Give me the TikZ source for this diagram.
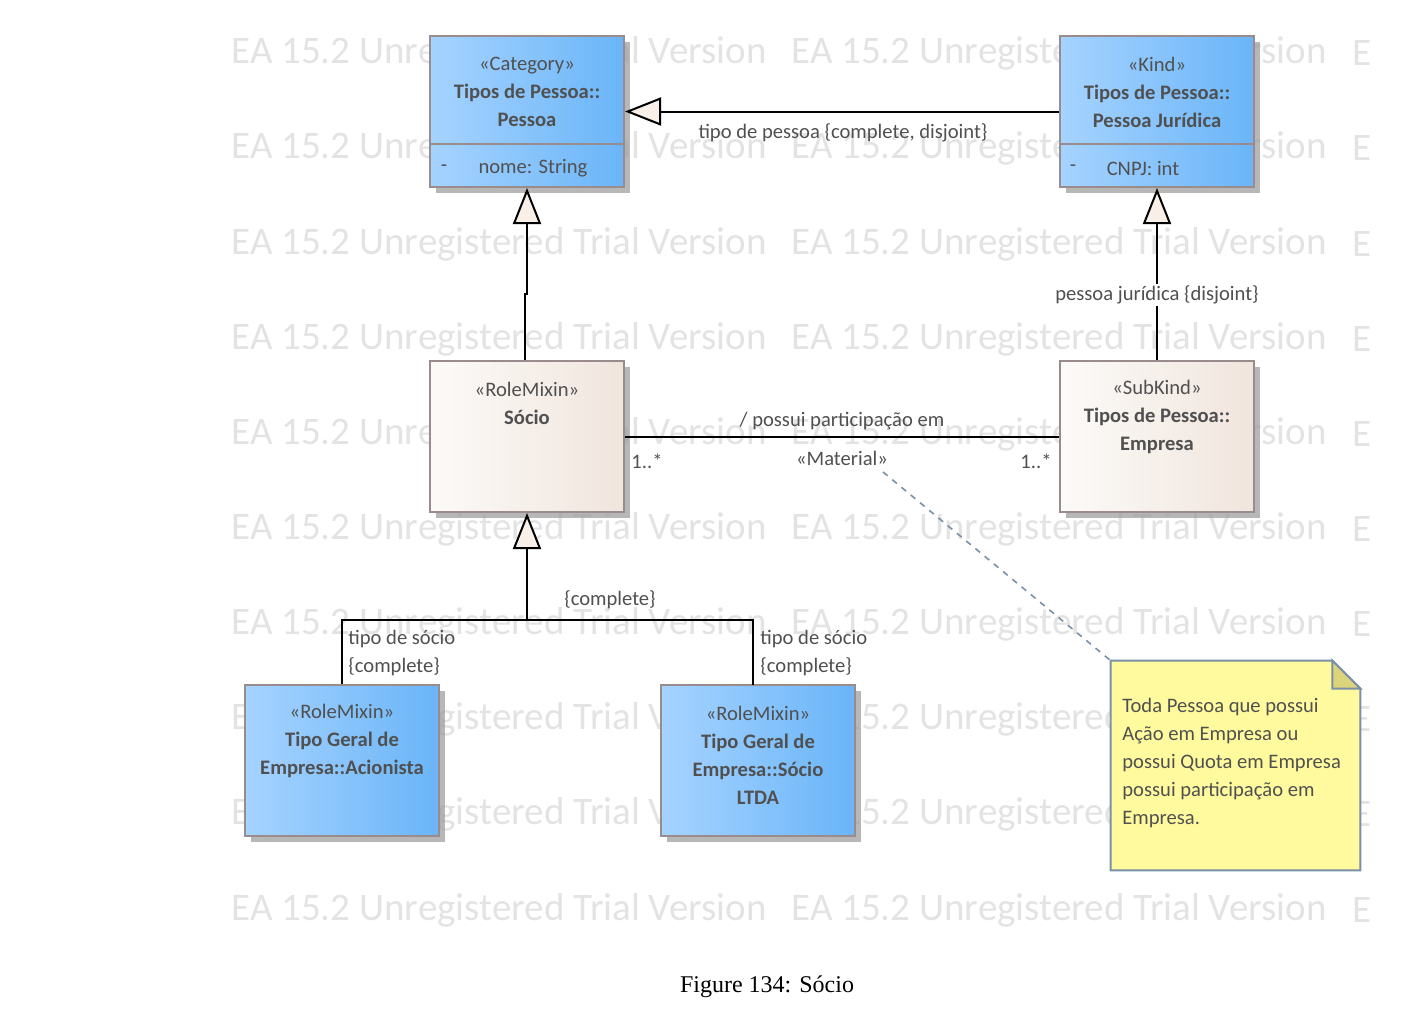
\documentclass[tikz,border=0pt]{standalone}
\usepackage{fontspec}
\setmainfont{Carlito}
\newfontfamily\captionfont{Liberation Serif}
\usetikzlibrary{arrows.meta, positioning, shadows}

\definecolor{txtgray}{HTML}{505050}
\definecolor{boxline}{HTML}{9A8C8C}
\definecolor{blueL}{HTML}{A6D3FF}
\definecolor{blueR}{HTML}{6AB5F8}
\definecolor{creamL}{HTML}{FCFAF8}
\definecolor{creamR}{HTML}{F0E5DD}
\definecolor{notefill}{HTML}{FFFA9E}
\definecolor{notefold}{HTML}{DCD47A}
\definecolor{noteline}{HTML}{7990A8}
\definecolor{wmark}{HTML}{E3E3E3}
\definecolor{tipfill}{HTML}{F8F0E8}

\tikzset{
  classbox/.style={draw=boxline, line width=1pt, minimum width=97pt, minimum height=75.5pt,
    inner sep=0pt, left color=blueL, right color=blueR,
    drop shadow={shadow xshift=3pt, shadow yshift=-3pt, fill=black!40, opacity=.7}},
  rolebox/.style={classbox, left color=creamL, right color=creamR},
  lbl/.style={text=txtgray, font=\fontsize{10.3}{14}\selectfont, inner sep=0pt, align=center},
  wmtext/.style={text=wmark, font=\fontsize{19.5}{19.5}\selectfont, inner sep=0pt, anchor=west},
  gen/.style={line width=1pt, -{Triangle[length=18pt, width=14pt, fill=tipfill]}},
  plain/.style={line width=1pt},
}

\begin{document}
\begin{tikzpicture}[x=0.5pt, y=-0.5pt]
\useasboundingbox (0,0) rectangle (1412,1024);

% watermark
\foreach \wy in {53,148,244,339,434,529,624,719,814,910} {
  \node[wmtext] (wa\wy) at (231,\wy) {EA 15.2 Unregistered Trial Version};
  \node[wmtext] (wb\wy) at (791,\wy) {EA 15.2 Unregistered Trial Version};
  \node[wmtext] (wc\wy) at (1352,\wy) {E};
}

% classes
\node[classbox] (pessoa) at (527,111.5) {};
\draw[draw=boxline, line width=1pt] (430,144) -- (624,144);
\node[lbl] (pessoaT) at (527,92) {«Category»\\ \textbf{Tipos de Pessoa::}\\ \textbf{Pessoa}};
\node[lbl] (pessoaM) at (444,168) {-};
\node[lbl] (pessoaA) at (533,168) {nome: String};

\node[classbox] (pjur) at (1157,111.5) {};
\draw[draw=boxline, line width=1pt] (1060,144) -- (1254,144);
\node[lbl] (pjurT) at (1157,92) {«Kind»\\ \textbf{Tipos de Pessoa::}\\ \textbf{Pessoa Jurídica}};
\node[lbl] (pjurM) at (1073,168) {-};
\node[lbl] (pjurA) at (1143,168) {CNPJ: int};

\node[rolebox] (socio) at (527,436.5) {};
\node[lbl] (socioT) at (527,403) {«RoleMixin»\\ \textbf{Sócio}};

\node[rolebox] (empresa) at (1157,436.5) {};
\node[lbl] (empresaT) at (1157,417) {«SubKind»\\ \textbf{Tipos de Pessoa::}\\ \textbf{Empresa}};

\node[classbox] (acion) at (342,760.5) {};
\node[lbl] (acionT) at (342,741) {«RoleMixin»\\ \textbf{Tipo Geral de}\\ \textbf{Empresa::Acionista}};

\node[classbox] (ltda) at (758,760.5) {};
\node[lbl] (ltdaT) at (758,755) {«RoleMixin»\\ \textbf{Tipo Geral de}\\ \textbf{Empresa::Sócio}\\ \textbf{LTDA}};

% note
\node[minimum width=124.5pt, minimum height=104.5pt, inner sep=0pt] (note) at (1235.5,765.5) {};
\draw[fill=notefill, draw=noteline, line width=1pt]
  (note.north west) -- ([xshift=-14pt]note.north east) -- ([yshift=-14pt]note.north east)
  -- (note.south east) -- (note.south west) -- cycle;
\draw[fill=notefold, draw=noteline, line width=1pt]
  ([xshift=-14pt]note.north east) -- ([xshift=-14pt,yshift=-14pt]note.north east)
  -- ([yshift=-14pt]note.north east) -- cycle;
\node[lbl, align=left, anchor=west] (noteT) at (1122,763)
  {Toda Pessoa que possui\\ Ação em Empresa ou\\ possui Quota em Empresa\\ possui participação em\\ Empresa.};

% generalizations
\draw[gen] (pjur.west) -- (pessoa.east);
\node[lbl] (genPessoa) at (843,133) {tipo de pessoa \{complete, disjoint\}};

\draw[gen] ([xshift=-1pt]socio.north) -- ++(0,-66) -- ++(2,0) -- (pessoa.south);

\draw[gen] (empresa.north) -- (pjur.south);
\node[lbl, fill=white, inner sep=1pt] (genPjur) at (1157,295) {pessoa jurídica \{disjoint\}};

\coordinate (treeJ) at (527,620);
\coordinate (ltdaTop) at (753,685);
\draw[plain] (acion.north) |- (ltdaTop |- treeJ) -- (ltdaTop);
\draw[gen] (treeJ) -- (socio.south);
\node[lbl] (genSocio) at (610,600) {\{complete\}};
\node[lbl, align=left, anchor=west] (genAcion) at (348,653) {tipo de sócio\\ \{complete\}};
\node[lbl, align=left, anchor=west] (genLtda) at (760,653) {tipo de sócio\\ \{complete\}};

% association
\draw[plain] (socio.east) -- (empresa.west);
\node[lbl] (assocName) at (842,421) {/ possui participação em};
\node[lbl] (assocSt) at (842,458) {«Material»};
\node[lbl] (multSocio) at (647,461) {1..*};
\node[lbl] (multEmp) at (1036,461) {1..*};

\coordinate (matLink) at (883,472);
\draw[noteline, line width=0.8pt, dashed] (matLink) -- (note.north west);

% caption
\node[font=\captionfont\fontsize{12}{14}\selectfont, inner sep=0pt] (caption) at (767,987) {Figure 134: Sócio};
\end{tikzpicture}
\end{document}
